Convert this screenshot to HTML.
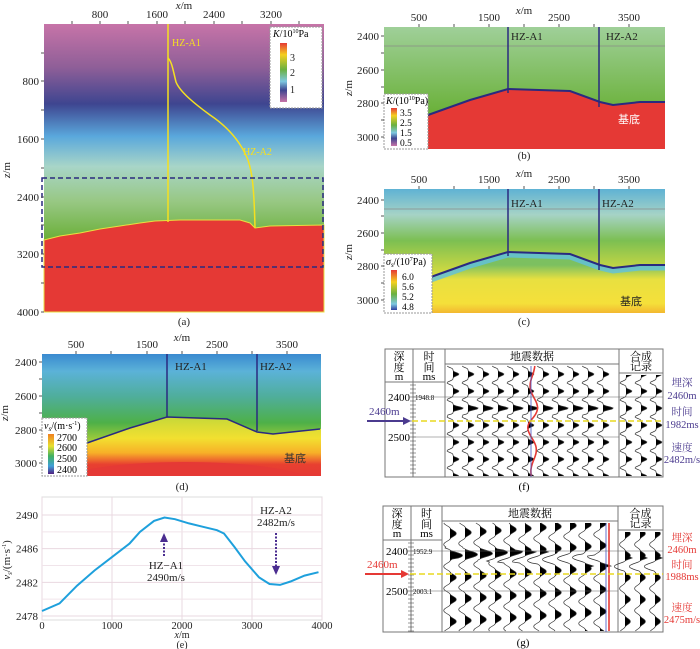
<!DOCTYPE html>
<html><head><meta charset="utf-8"><style>
body{margin:0;background:#fff}
svg{display:block;font-family:"Liberation Serif","Noto Serif CJK SC",serif}
.t{font-size:11px;fill:#222}
.c{font-size:11px;fill:#222;text-anchor:middle}
</style></head><body>
<svg id="fig" width="700" height="649" viewBox="0 0 700 649" xmlns="http://www.w3.org/2000/svg">
<defs>
<linearGradient id="ga" x1="0" y1="24" x2="0" y2="240" gradientUnits="userSpaceOnUse">
<stop offset="0" stop-color="#c774a8"/><stop offset="0.2" stop-color="#8f5f98"/><stop offset="0.37" stop-color="#3e4590"/><stop offset="0.52" stop-color="#5aa8dc"/><stop offset="0.66" stop-color="#a8d5c8"/><stop offset="0.82" stop-color="#98c884"/><stop offset="1" stop-color="#6aaf38"/></linearGradient>
<linearGradient id="gb" x1="0" y1="26" x2="0" y2="110" gradientUnits="userSpaceOnUse">
<stop offset="0" stop-color="#a0d09a"/><stop offset="1" stop-color="#6cb23c"/></linearGradient>
<linearGradient id="gc" x1="0" y1="189" x2="0" y2="275" gradientUnits="userSpaceOnUse">
<stop offset="0" stop-color="#5fb2d4"/><stop offset="0.3" stop-color="#a6d3c6"/><stop offset="0.6" stop-color="#7cbf52"/><stop offset="1" stop-color="#d8dc40"/></linearGradient>
<linearGradient id="gc2" x1="0" y1="265" x2="0" y2="313" gradientUnits="userSpaceOnUse">
<stop offset="0" stop-color="#7cc060"/><stop offset="0.3" stop-color="#e8e040"/><stop offset="0.8" stop-color="#f5e03a"/><stop offset="1" stop-color="#f3b830"/></linearGradient>
<linearGradient id="gd" x1="0" y1="354" x2="0" y2="440" gradientUnits="userSpaceOnUse">
<stop offset="0" stop-color="#3a8ad0"/><stop offset="0.2" stop-color="#5bb2d8"/><stop offset="0.5" stop-color="#4fae9a"/><stop offset="0.8" stop-color="#4eb048"/><stop offset="1" stop-color="#a0cc3a"/></linearGradient>
<linearGradient id="gd2" x1="0" y1="418" x2="0" y2="476" gradientUnits="userSpaceOnUse">
<stop offset="0" stop-color="#c8d838"/><stop offset="0.35" stop-color="#f2e030"/><stop offset="0.6" stop-color="#f7b028"/><stop offset="0.8" stop-color="#e84030"/><stop offset="1" stop-color="#e53935"/></linearGradient>
<linearGradient id="cbK" x1="0" y1="0" x2="0" y2="1"><stop offset="0" stop-color="#e53935"/><stop offset="0.2" stop-color="#f5d020"/><stop offset="0.45" stop-color="#6ab040"/><stop offset="0.65" stop-color="#7ec8e0"/><stop offset="0.8" stop-color="#3e4590"/><stop offset="1" stop-color="#c774a8"/></linearGradient>
<linearGradient id="cbS" x1="0" y1="0" x2="0" y2="1"><stop offset="0" stop-color="#e53935"/><stop offset="0.3" stop-color="#f5d020"/><stop offset="0.6" stop-color="#6ab040"/><stop offset="0.85" stop-color="#7ec8e0"/><stop offset="1" stop-color="#3040a0"/></linearGradient>
<linearGradient id="cbV" x1="0" y1="0" x2="0" y2="1"><stop offset="0" stop-color="#f08020"/><stop offset="0.3" stop-color="#e8e030"/><stop offset="0.55" stop-color="#40b060"/><stop offset="0.8" stop-color="#40a0d8"/><stop offset="1" stop-color="#502080"/></linearGradient>
<clipPath id="clipD"><rect x="42" y="354" width="279" height="122"/></clipPath>
</defs>

<!-- Panel (a) -->
<g>
<rect x="44" y="24" width="280" height="288" fill="url(#ga)"/>
<polygon points="44,240 60,236 80,233 100,229 120,226 140,223 155,221 180,220 240,220 250,223 255,228 270,226 324,225 324,312 44,312" fill="#e53935" stroke="#e8e040" stroke-width="1"/>
<line x1="168" y1="24" x2="168" y2="222" stroke="#f5e020" stroke-width="1.5"/>
<path d="M168,58 C172,62 173,70 176,82 C180,92 195,104 210,115 C225,125 240,140 248,160 C252,172 254,185 255,228" fill="none" stroke="#f5e020" stroke-width="1.5"/>
<text x="172" y="46" style="font-size:10px;fill:#f5e020">HZ-A1</text>
<text x="243" y="155" style="font-size:10px;fill:#f5e020">HZ-A2</text>
<rect x="42" y="178" width="281" height="89" fill="none" stroke="#2a2a80" stroke-width="1.5" stroke-dasharray="5,3"/>
<rect x="270" y="27" width="52" height="81" fill="#fff" stroke="#999" stroke-dasharray="2,1"/>
<text x="273" y="37" style="font-size:10px"><tspan font-style="italic">K</tspan>/10<tspan dy="-4" font-size="6">10</tspan><tspan dy="4">Pa</tspan></text>
<rect x="280" y="43" width="7" height="59" fill="url(#cbK)"/>
<text x="290" y="61" class="t" style="font-size:10px">3</text><text x="290" y="76" class="t" style="font-size:10px">2</text><text x="290" y="93" class="t" style="font-size:10px">1</text>
<text x="184" y="9" class="c" font-style="italic">x<tspan font-style="normal">/m</tspan></text>
<g id="axA"></g>
<text x="10" y="170" class="c" transform="rotate(-90 10 170)"><tspan font-style="italic">z</tspan>/m</text>
<text x="184" y="325" class="c">(a)</text>
</g>

<!-- Panel (b) -->
<g>
<rect x="384" y="27" width="281" height="122" fill="url(#gb)"/>
<line x1="384" y1="46" x2="665" y2="46" stroke="#888" stroke-width="1" opacity="0.7"/>
<polygon id="baseB" fill="#e53935"/>
<polyline id="horB" fill="none" stroke="#2a2a80" stroke-width="2"/>
<line x1="508" y1="27" x2="508" y2="93" stroke="#2a2a80" stroke-width="1.5"/>
<line x1="599" y1="27" x2="599" y2="107" stroke="#2a2a80" stroke-width="1.5"/>
<text x="511" y="40" class="t">HZ-A1</text><text x="606" y="40" class="t">HZ-A2</text>
<text x="618" y="123" style="font-size:11px;fill:#fff;font-family:'Noto Sans CJK SC',sans-serif">基底</text>
<rect x="384" y="94" width="44" height="55" fill="#fff" stroke="#999" stroke-dasharray="2,1"/>
<text x="386" y="104" style="font-size:10px"><tspan font-style="italic">K</tspan>/(10<tspan dy="-4" font-size="6">10</tspan><tspan dy="4">Pa)</tspan></text>
<rect x="391" y="108" width="6" height="38" fill="url(#cbK)"/>
<text x="400" y="116" style="font-size:9.5px">3.5</text><text x="400" y="126" style="font-size:9.5px">2.5</text><text x="400" y="136" style="font-size:9.5px">1.5</text><text x="400" y="146" style="font-size:9.5px">0.5</text>
<text x="524" y="14" class="c" font-style="italic">x<tspan font-style="normal">/m</tspan></text>
<g id="axB"></g>
<text x="352" y="88" class="c" transform="rotate(-90 352 88)"><tspan font-style="italic">z</tspan>/m</text>
<text x="524" y="159" class="c">(b)</text>
</g>

<!-- Panel (c) -->
<g>
<rect x="384" y="189" width="281" height="124" fill="url(#gc)"/>
<line x1="384" y1="209" x2="665" y2="209" stroke="#888" stroke-width="1" opacity="0.7"/>
<polygon id="baseC" fill="url(#gc2)"/>
<polyline id="horC2" fill="none" stroke="#60c0e0" stroke-width="5" opacity="0.8"/>
<polyline id="horC" fill="none" stroke="#2a2a80" stroke-width="2"/>
<line x1="508" y1="189" x2="508" y2="256" stroke="#2a2a80" stroke-width="1.5"/>
<line x1="599" y1="189" x2="599" y2="270" stroke="#2a2a80" stroke-width="1.5"/>
<text x="511" y="207" class="t">HZ-A1</text><text x="602" y="207" class="t">HZ-A2</text>
<text x="620" y="305" style="font-size:11px;fill:#222;font-family:'Noto Sans CJK SC',sans-serif">基底</text>
<rect x="384" y="254" width="48" height="59" fill="#fff" stroke="#999" stroke-dasharray="2,1"/>
<text x="386" y="265" style="font-size:10px"><tspan font-style="italic">σ<tspan font-size="7" dy="2">s</tspan></tspan><tspan dy="-2">/(10</tspan><tspan dy="-4" font-size="6">7</tspan><tspan dy="4">Pa)</tspan></text>
<rect x="391" y="270" width="6" height="40" fill="url(#cbS)"/>
<text x="402" y="280" style="font-size:9.5px">6.0</text><text x="402" y="290" style="font-size:9.5px">5.6</text><text x="402" y="300" style="font-size:9.5px">5.2</text><text x="402" y="310" style="font-size:9.5px">4.8</text>
<text x="524" y="177" class="c" font-style="italic">x<tspan font-style="normal">/m</tspan></text>
<g id="axC"></g>
<text x="352" y="252" class="c" transform="rotate(-90 352 252)"><tspan font-style="italic">z</tspan>/m</text>
<text x="524" y="325" class="c">(c)</text>
</g>

<!-- Panel (d) -->
<g>
<rect x="42" y="354" width="279" height="122" fill="url(#gd)"/>
<g clip-path="url(#clipD)">
<polygon points="42,452 87,443 130,428 167,417 227,419 257,432 273,434 320,429 321,429 321,476 42,476" fill="url(#gd2)"/>
<ellipse cx="185" cy="482" rx="125" ry="20" fill="#e53935"/>
</g>
<polyline points="87,443 130,428 167,417 227,419 257,432 273,434 320,429" fill="none" stroke="#2a2a80" stroke-width="1.5"/>
<line x1="167" y1="354" x2="167" y2="417" stroke="#2a2a80" stroke-width="1.5"/>
<line x1="257" y1="354" x2="257" y2="431" stroke="#2a2a80" stroke-width="1.5"/>
<text x="175" y="370" class="t">HZ-A1</text><text x="260" y="370" class="t">HZ-A2</text>
<text x="284" y="462" style="font-size:11px;fill:#333;font-family:'Noto Sans CJK SC',sans-serif">基底</text>
<rect x="42" y="418" width="45" height="58" fill="#fff" stroke="#999" stroke-dasharray="2,1"/>
<text x="44" y="429" style="font-size:10px"><tspan font-style="italic">v<tspan font-size="7" dy="2">s</tspan></tspan><tspan dy="-2">/(m·s</tspan><tspan dy="-4" font-size="6">-1</tspan><tspan dy="4">)</tspan></text>
<rect x="48" y="434" width="6" height="40" fill="url(#cbV)"/>
<text x="57" y="441" style="font-size:10px">2700</text><text x="57" y="451" style="font-size:10px">2600</text><text x="57" y="462" style="font-size:10px">2500</text><text x="57" y="473" style="font-size:10px">2400</text>
<text x="182" y="341" class="c" font-style="italic">x<tspan font-style="normal">/m</tspan></text>
<g id="axD"></g>
<text x="8" y="413" class="c" transform="rotate(-90 8 413)"><tspan font-style="italic">z</tspan>/m</text>
<text x="182" y="490" class="c">(d)</text>
</g>

<!-- Panel (e) -->
<g>
<rect x="42" y="497" width="280" height="123" fill="#fff" stroke="#ddd"/>
<g id="gridE"></g>
<path id="lineE" fill="none" stroke="#1ea0dc" stroke-width="2"/>
<line x1="164" y1="556" x2="164" y2="540" stroke="#4b2d90" stroke-width="2" stroke-dasharray="2,1.5"/>
<polygon points="164,533 160,542 168,542" fill="#4b2d90"/>
<text x="166" y="569" class="c">HZ−A1</text>
<text x="166" y="581" class="c">2490m/s</text>
<text x="276" y="514" class="c">HZ-A2</text>
<text x="276" y="526" class="c">2482m/s</text>
<line x1="276" y1="533" x2="276" y2="566" stroke="#4b2d90" stroke-width="2" stroke-dasharray="2,1.5"/>
<polygon points="276,575 272,566 280,566" fill="#4b2d90"/>
<g id="axE"></g>
<text x="182" y="638" class="c" style="font-size:10px" font-style="italic">x<tspan font-style="normal">/m</tspan></text>
<text x="182" y="648" class="c" style="font-size:10px">(e)</text>
<text x="10" y="560" class="c" transform="rotate(-90 10 560)"><tspan font-style="italic">v<tspan font-size="7" dy="2">s</tspan></tspan><tspan dy="-2">/(m·s</tspan><tspan dy="-4" font-size="6">-1</tspan><tspan dy="4">)</tspan></text>
</g>

<g id="panF"></g>
<g id="panG"></g>
</svg>
<script>
// Panel (e) data
const eX = [0,250,500,750,1000,1250,1400,1600,1750,1900,2100,2300,2500,2600,2750,2900,3100,3250,3400,3550,3750,3950];
const eV = [2478.6,2479.5,2481.6,2483.4,2485,2486.6,2488,2489.3,2489.7,2489.5,2489.0,2488.6,2488.2,2487.8,2486.2,2484.5,2482.6,2481.8,2481.7,2482.1,2482.8,2483.2];
const eXTicks = [0,1000,2000,3000,4000];
const eYTicks = [2478,2482,2486,2490];

const NS='http://www.w3.org/2000/svg';
function mk(tag,attrs,parent,text){const e=document.createElementNS(NS,tag);for(const k in attrs)e.setAttribute(k,attrs[k]);if(text!=null)e.textContent=text;parent.appendChild(e);return e;}

const ex=v=>42+(v/4000)*280, ey=v=>616-(v-2478)/12*101;
const gE=document.getElementById('gridE'), aE=document.getElementById('axE');
eXTicks.forEach(t=>{const l=mk('line',{x1:ex(t),y1:497,x2:ex(t),y2:620,stroke:'#ead8e0'},gE);


const tx=mk('text',{x:ex(t),y:629,class:'c',style:'font-size:10.5px'},aE,t);

});
[2480,2484,2488].forEach(t=>mk('line',{x1:42,y1:ey(t),x2:322,y2:ey(t),stroke:'#f0e4ea'},gE));
eYTicks.forEach(t=>{mk('line',{x1:42,y1:ey(t),x2:322,y2:ey(t),stroke:'#ead8e0'},gE);
const tx=mk('text',{x:38,y:ey(t)+4,class:'t','text-anchor':'end'},aE,t);

});
let d='';eX.forEach((x,i)=>{d+=(i?'L':'M')+ex(x).toFixed(1)+','+ey(eV[i]).toFixed(1);});
document.getElementById('lineE').setAttribute('d',d);

function axes(g,x0,yTop,yBot,xs,ys){
 const G=document.getElementById(g);
 xs.forEach(([p,l])=>{mk('line',{x1:p,y1:yTop-3,x2:p,y2:yTop,stroke:'#555'},G);if(l)mk('text',{x:p,y:yTop-6,class:'c'},G,l);});
 ys.forEach(([p,l])=>{mk('line',{x1:x0-3,y1:p,x2:x0,y2:p,stroke:'#555'},G);if(l)mk('text',{x:x0-5,y:p+4,class:'t','text-anchor':'end'},G,l);});
}
axes('axA',44,24,312,[[72,''],[100,'800'],[128,''],[157,'1600'],[185,''],[214,'2400'],[242,''],[271,'3200'],[299,'']],
 [[53,''],[81,'800'],[110,''],[139,'1600'],[168,''],[197,'2400'],[225,''],[254,'3200'],[283,''],[312,'4000']]);
const bx=[[419,'500'],[454,''],[489,'1500'],[524,''],[559,'2500'],[594,''],[629,'3500']];
axes('axB',384,27,149,bx,[[36,'2400'],[53,''],[70,'2600'],[87,''],[103,'2800'],[120,''],[137,'3000']]);
axes('axC',384,189,313,bx,[[200,'2400'],[216,''],[233,'2600'],[250,''],[266,'2800'],[283,''],[300,'3000']]);
axes('axD',42,354,476,[[76,'500'],[111,''],[147,'1500'],[182,''],[217,'2500'],[252,''],[287,'3500']],
 [[362,'2400'],[379,''],[396,'2600'],[413,''],[430,'2800'],[447,''],[463,'3000']]);

const hb=[[384,132],[428,115],[470,100],[508,89],[570,91],[600,102],[613,105],[640,102],[665,102]];
const s=pts=>pts.map(p=>p.join(',')).join(' ');
document.getElementById('baseB').setAttribute('points',s(hb)+' 665,149 384,149');
document.getElementById('horB').setAttribute('points',s(hb.slice(1)));
const hc=hb.map(p=>[p[0],p[1]+163]);
document.getElementById('baseC').setAttribute('points',s(hc)+' 665,313 384,313');
document.getElementById('horC').setAttribute('points',s(hc.slice(1)));
document.getElementById('horC2').setAttribute('points',s(hc.slice(1).map(p=>[p[0],p[1]+3])));

function wig(G,x0,y0,y1,amp,ph,per,boost,pw){
 let line='',fill='M'+x0+','+y0;
 for(let y=y0;y<=y1;y+=1){
  const sn=Math.sin((y+ph)/per*2*Math.PI);
  let w=amp*Math.sign(sn)*Math.pow(Math.abs(sn),pw);
  if(boost)w*=boost(y);
  line+=(y===y0?'M':'L')+(x0+w).toFixed(1)+','+y;
  fill+='L'+(x0+Math.max(0,w)).toFixed(1)+','+y;
 }
 fill+='L'+x0+','+y1+'Z';
 mk('path',{d:fill,fill:'#000'},G);
 mk('path',{d:line,fill:'none',stroke:'#333','stroke-width':0.7},G);
}
function table(id,o){
 const G=document.getElementById(id);
 const {x0,x1,y0,y1,c1,c2,c3,hd,hs,hy,col,lab,arrowY,d2400,d2500,t1,t2,big}=o;
 mk('rect',{x:x0,y:y0,width:x1-x0,height:y1-y0,fill:'#fff',stroke:'#777'},G);
 [c1,c2,c3].forEach(c=>mk('line',{x1:c,y1:y0,x2:c,y2:y1,stroke:'#777'},G));
 mk('line',{x1:x0,y1:hd,x2:c2,y2:hd,stroke:'#777'},G);
 mk('line',{x1:c2,y1:hs,x2:c3,y2:hs,stroke:'#777'},G);
 mk('line',{x1:c3,y1:hy,x2:x1,y2:hy,stroke:'#777'},G);
 const cj='font-family:"Liberation Serif","Noto Serif CJK SC",serif;font-size:11px';
 mk('text',{x:(x0+c1)/2,y:y0+11,'text-anchor':'middle',style:cj},G,'深');
 mk('text',{x:(x0+c1)/2,y:y0+22,'text-anchor':'middle',style:cj},G,'度');
 mk('text',{x:(x0+c1)/2,y:y0+31,'text-anchor':'middle',style:cj},G,'m');
 mk('text',{x:(c1+c2)/2,y:y0+11,'text-anchor':'middle',style:cj},G,'时');
 mk('text',{x:(c1+c2)/2,y:y0+22,'text-anchor':'middle',style:cj},G,'间');
 mk('text',{x:(c1+c2)/2,y:y0+31,'text-anchor':'middle',style:cj},G,'ms');
 mk('text',{x:(c2+c3)/2,y:y0+11,'text-anchor':'middle',style:cj},G,'地震数据');
 mk('text',{x:(c3+x1)/2,y:y0+11,'text-anchor':'middle',style:cj},G,'合成');
 mk('text',{x:(c3+x1)/2,y:y0+21,'text-anchor':'middle',style:cj},G,'记录');
 for(let y=hd+3;y<y1;y+=4) mk('line',{x1:c1-3,y1:y,x2:c1+3,y2:y,stroke:'#555','stroke-width':0.6},G);
 mk('text',{x:c1-3,y:d2400+4,'text-anchor':'end',style:'font-size:11px'},G,'2400');
 mk('text',{x:c1-3,y:d2500+4,'text-anchor':'end',style:'font-size:11px'},G,'2500');
 mk('text',{x:c1+2,y:d2400+3,style:'font-size:7px'},G,t1);
 if(t2)mk('text',{x:c1+2,y:d2500+3,style:'font-size:7px'},G,t2);
 for(let i=0;i<12;i++){
  const x=c2+8+i*15;
  if(x>c3-8)break;
  if(big) wig(G,x,hs+2,y1-1,7,i*1.0,22,y=>Math.abs(y-(big.y+i*big.k))<6?1.8:0.9,1.5);
  else wig(G,x,hs+2,y1-1,6,4,17,y=>Math.abs(y-(d2400+13))<6?1.7:1,3);
 }
 for(let i=0;i<3;i++) wig(G,c3+7+i*15,hy+2,y1-1,6,big?0:4,big?22:17,big?(y=>Math.abs(y-(arrowY-10))<7?1.8:0.9):null,big?1.5:3);
 const rx=big?c3-10:c2+88;
 let p='';for(let y=hs+2;y<y1;y+=2){const w=big?1:6*Math.sin(y/7)*Math.exp(-Math.abs(y-arrowY)/50);p+=(p?'L':'M')+(rx+w).toFixed(1)+','+y;}
 mk('path',{d:p,fill:'none',stroke:'#e53935','stroke-width':1.6},G);
 mk('line',{x1:rx-2,y1:hs+2,x2:rx-2,y2:y1,stroke:'#4050c0','stroke-width':0.8},G);
 mk('line',{x1:c1,y1:d2400,x2:x1,y2:d2400,stroke:'#666','stroke-width':0.6},G);
 mk('line',{x1:c1,y1:d2500,x2:c3,y2:d2500,stroke:'#666','stroke-width':0.6},G);
 mk('line',{x1:x0,y1:arrowY,x2:x1,y2:arrowY,stroke:'#e8d820','stroke-width':1.5,'stroke-dasharray':'6,3'},G);
 mk('line',{x1:x0-18,y1:arrowY,x2:c1-8,y2:arrowY,stroke:col,'stroke-width':2},G);
 mk('polygon',{points:(c1-2)+','+arrowY+' '+(c1-10)+','+(arrowY-4)+' '+(c1-10)+','+(arrowY+4),fill:col},G);
 mk('text',{x:x0-16,y:arrowY-6,style:'font-size:11px;fill:'+col},G,'2460m');
 const L=['埋深','2460m','时间',lab[0],'速度',lab[1]];
 o.ly.forEach((y,i)=>mk('text',{x:682,y:y,'text-anchor':'middle',style:'font-family:"Liberation Serif","Noto Serif CJK SC",serif;font-size:10.5px;fill:'+col},G,L[i]));
 mk('text',{x:(x0+x1)/2,y:o.cap,'text-anchor':'middle',style:'font-size:11px'},G,o.capT);
}
table('panF',{x0:385,x1:663,y0:349,y1:477,c1:413,c2:445,c3:619,hd:382,hs:364,hy:373,col:'#4b3b8f',lab:['1982ms','2482m/s'],arrowY:421,d2400:397,d2500:437,t1:'1948.8',t2:'',ly:[386,399,415,428,451,463],cap:490,capT:'(f)'});
table('panG',{x0:383,x1:663,y0:506,y1:632,c1:411,c2:442,c3:618,hd:540,hs:521,hy:530,col:'#e53935',lab:['1988ms','2475m/s'],arrowY:574,d2400:551,d2500:591,t1:'1952.9',t2:'2003.1',big:{y:553,k:0.8},ly:[541,553,568,580,611,623],cap:646,capT:'(g)'});
</script>
</body></html>
